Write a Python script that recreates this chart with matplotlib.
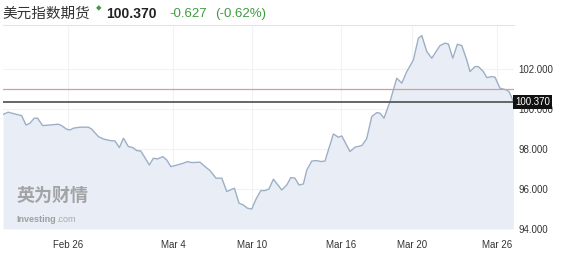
import matplotlib
matplotlib.use("Agg")
import matplotlib.pyplot as plt
import matplotlib.transforms as mtransforms

plt.rcParams['font.family'] = ['Liberation Sans', 'Noto Sans CJK SC', 'DejaVu Sans']

# time axis in (roughly) trading-day units, Feb 26 = 0
t = [-3.25, -3.20, -2.99, -2.65, -2.32, -2.10, -1.90, -1.69, -1.52, -1.27, -0.90,
     -0.49, -0.32, -0.07, 0.10, 0.27, 0.60, 1.02, 1.19, 1.52, 1.77, 2.10,
     2.35, 2.57, 2.77, 3.02, 3.24, 3.44, 3.64, 4.07, 4.27, 4.47, 4.74,
     4.94, 5.14, 5.35, 5.60, 5.77, 5.97, 6.19, 6.60, 6.85, 7.10, 7.40,
     7.69, 7.94, 8.32, 8.55, 8.77, 8.97, 9.19, 9.40, 9.64, 9.85, 10.05,
     10.27, 10.69, 10.94, 11.14, 11.35, 11.55, 11.77, 11.94, 12.19, 12.44,
     12.65, 12.85, 13.27, 13.52, 13.69, 14.10, 14.35, 14.69, 14.93, 15.19,
     15.44, 15.60, 15.80, 16.10, 16.44, 16.69, 16.94, 17.27, 17.52, 17.69,
     17.94, 18.19, 18.60, 18.85, 19.02, 19.24, 19.47, 19.69, 19.94, 20.10,
     20.35, 20.52, 20.77, 20.94, 21.19, 21.35, 21.60, 21.94, 22.07, 22.27]
price = [99.72, 99.75, 99.84, 99.75, 99.67, 99.20, 99.29, 99.54, 99.54, 99.17, 99.20,
         99.24, 99.17, 98.99, 98.95, 99.04, 99.09, 99.09, 98.99, 98.62, 98.50, 98.42,
         98.40, 98.07, 98.54, 98.12, 98.07, 97.92, 97.90, 97.20, 97.54, 97.50, 97.62,
         97.45, 97.12, 97.17, 97.24, 97.29, 97.37, 97.32, 97.34, 97.12, 96.92, 96.54,
         96.54, 95.87, 96.04, 95.29, 95.20, 95.04, 95.00, 95.49, 95.92, 95.92, 96.00,
         96.49, 95.95, 96.20, 96.57, 96.54, 96.20, 96.25, 96.95, 97.40, 97.42,
         97.37, 97.40, 98.75, 98.59, 98.65, 97.87, 98.09, 98.17, 98.50, 99.62,
         99.82, 99.79, 99.54, 100.37, 101.54, 101.29, 101.87, 102.45, 103.54, 103.67,
         102.87, 102.54, 103.17, 103.29, 103.25, 102.54, 103.24, 103.17, 102.45, 101.87,
         102.12, 102.12, 101.87, 101.57, 101.62, 101.59, 101.04, 100.95, 100.84, 100.37]

last_price = 100.370
prev_close = 100.997
change = -0.627
change_pct = -0.62

xtick_pos = [0, 5.25, 9.2, 13.65, 17.2, 21.45]
xtick_labels = ["Feb 26", "Mar 4", "Mar 10", "Mar 16", "Mar 20", "Mar 26"]
ytick_vals = [94, 96, 98, 100, 102]

fig = plt.figure(figsize=(5.67, 2.57), dpi=100)
ax = fig.add_axes([0.0053, 0.109, 0.9012, 0.7937])

ax.fill_between(t, price, 94, color="#e9eef6", lw=0)
ax.plot(t, price, color="#9cafc6", lw=1.0)

ax.axhline(prev_close, color="#d99a9a", lw=0.9)
ax.axhline(last_price, color="#5a5a5a", lw=1.3)

ax.set_xlim(-3.25, 22.3)
ax.set_ylim(94, 104.2)
ax.set_xticks(xtick_pos)
ax.set_xticklabels(xtick_labels)
ax.set_yticks(ytick_vals)
ax.set_yticklabels(["%.3f" % v for v in ytick_vals])
ax.yaxis.tick_right()
ax.tick_params(axis="both", length=0, labelsize=7, colors="#333333")
ax.tick_params(axis="y", pad=3)
ax.tick_params(axis="x", pad=8)
ax.grid(True, color="#f0f2f5", lw=0.8)
ax.set_axisbelow(True)
for s in ["left", "bottom", "right"]:
    ax.spines[s].set_visible(False)
ax.spines["top"].set_color("#e4e4e4")
ax.spines["top"].set_linewidth(0.8)

trans = mtransforms.blended_transform_factory(ax.transAxes, ax.transData)
ax.text(1.002, last_price, "%.3f" % last_price, transform=trans, ha="left", va="center",
        fontsize=7, color="white", zorder=10,
        bbox=dict(boxstyle="square,pad=0.2", fc="#111111", ec="none"))

# watermark
ax.text(0.027, 0.135, "英为财情", transform=ax.transAxes, fontsize=13, fontweight="bold",
        color="#8a8a8a", alpha=0.75, family=["Noto Sans CJK SC", "DejaVu Sans"])
ax.text(0.027, 0.035, "Investing", transform=ax.transAxes, fontsize=6.5, fontweight="bold",
        color="#8a8a8a", alpha=0.8)
ax.text(0.105, 0.035, ".com", transform=ax.transAxes, fontsize=6.5, color="#aaaaaa")

# header
fig.text(0.005, 0.945, "美元指数期货", fontsize=10.5, color="#333333", va="center",
         family=["Noto Sans CJK SC", "DejaVu Sans"])
fig.text(0.170, 0.965, "◆", fontsize=4, color="#3f9b3f", va="center")
fig.text(0.187, 0.945, "%.3f" % last_price, fontsize=10, fontweight="bold", color="#222222", va="center")
fig.text(0.298, 0.945, "%.3f" % change, fontsize=9.5, color="#3f9b3f", va="center")
fig.text(0.379, 0.945, "(%.2f%%)" % change_pct, fontsize=9.5, color="#3f9b3f", va="center")

fig.savefig("out.png", dpi=100)
